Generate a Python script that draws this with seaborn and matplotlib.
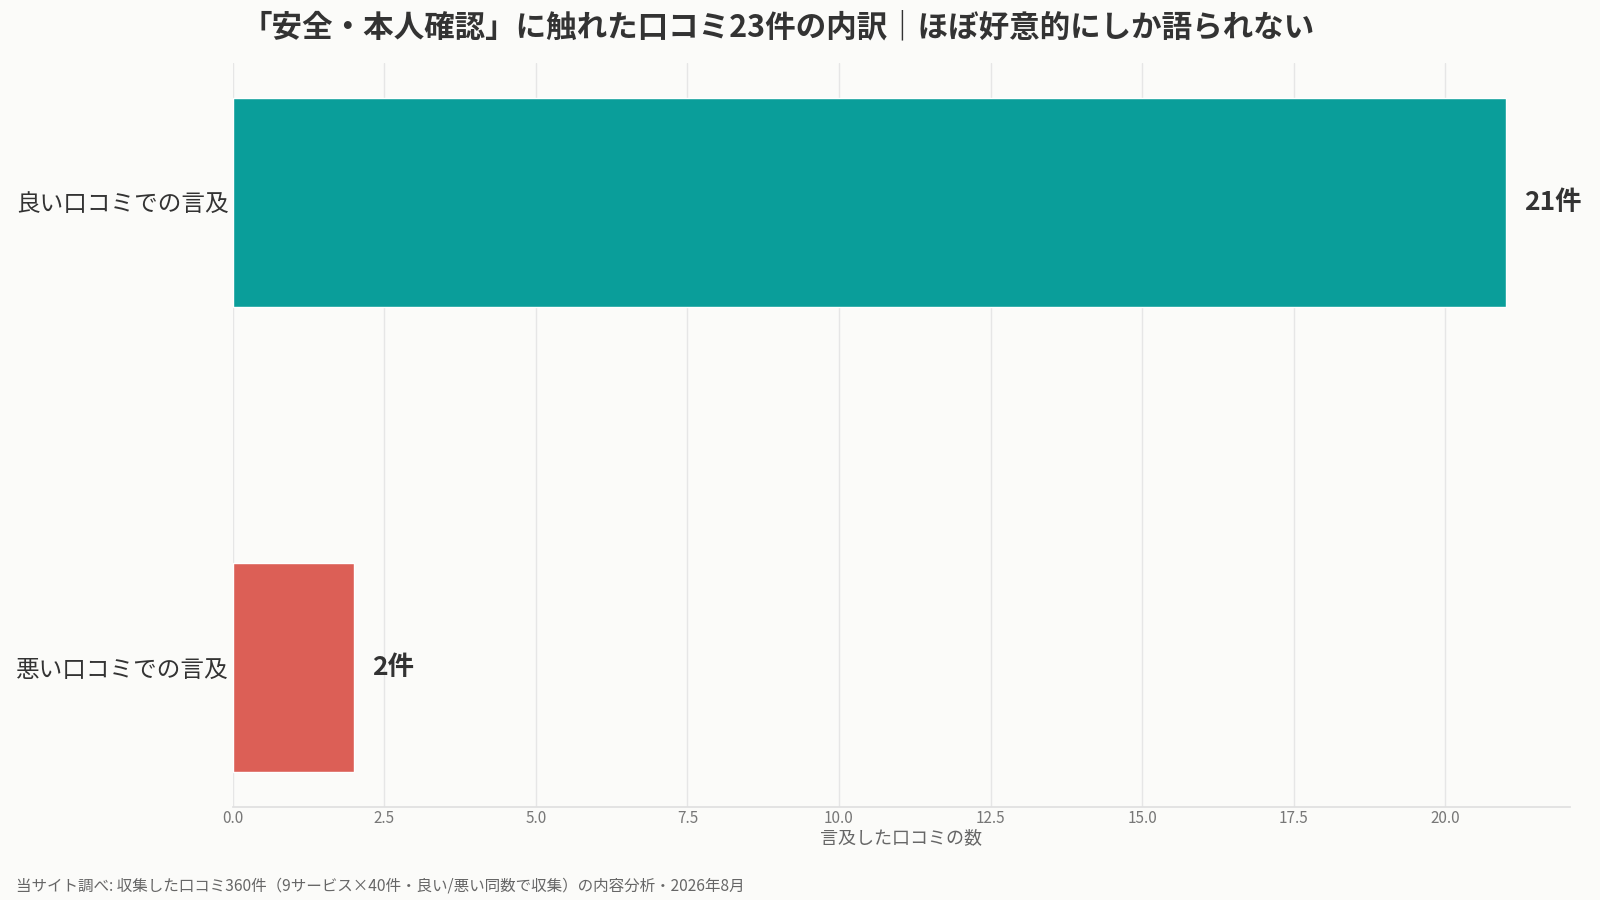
import matplotlib
matplotlib.use("Agg")
import matplotlib.pyplot as plt
import seaborn as sns
import pandas as pd

categories = ["良い口コミでの言及", "悪い口コミでの言及"]
values = [21, 2]
value_labels = ["21件", "2件"]
colors = ["#0a9e9a", "#dc5f56"]

title = "「安全・本人確認」に触れた口コミ23件の内訳｜ほぼ好意的にしか語られない"
xlabel = "言及した口コミの数"
footer = "当サイト調べ: 収集した口コミ360件（9サービス×40件・良い/悪い同数で収集）の内容分析・2026年8月"

sns.set_theme(style="whitegrid")
plt.rcParams['font.family'] = ['Noto Sans CJK JP', 'DejaVu Sans']
bg = "#fbfbf9"

df = pd.DataFrame({"cat": categories, "val": values})

fig = plt.figure(figsize=(16, 9), dpi=100, facecolor=bg)
ax = fig.add_axes([0.1454, 0.1033, 0.8356, 0.827])
ax.set_facecolor(bg)
sns.barplot(data=df, x="val", y="cat", hue="cat", palette=colors, legend=False,
            width=0.45, ax=ax, saturation=1)

ax.set_xlim(0, 22.05)
ax.set_ylim(1.3, -0.3)
ax.grid(axis="x", color="#e6e6e6", linewidth=1)
ax.grid(axis="y", visible=False)
for s in ["top", "right", "left"]:
    ax.spines[s].set_visible(False)
ax.spines["bottom"].set_color("#e0e0e0")
ax.tick_params(axis="x", colors="#777777", labelsize=11, length=0, pad=2)
ax.tick_params(axis="y", colors="#333333", labelsize=17, length=0, pad=3)
ax.set_ylabel("")
ax.set_xlabel(xlabel, color="#666666", fontsize=13, labelpad=2)

for i, (v, lab) in enumerate(zip(values, value_labels)):
    ax.text(v + 0.3, i, lab, va="center", ha="left", fontsize=19,
            fontweight="bold", color="#333333")

fig.text(0.486, 0.969, title, ha="center", va="center", fontsize=22,
         fontweight="bold", color="#333333")
fig.text(0.01, 0.016, footer, ha="left", va="center", fontsize=11.2, color="#666666")

fig.savefig("out.png", dpi=100, facecolor=bg)
